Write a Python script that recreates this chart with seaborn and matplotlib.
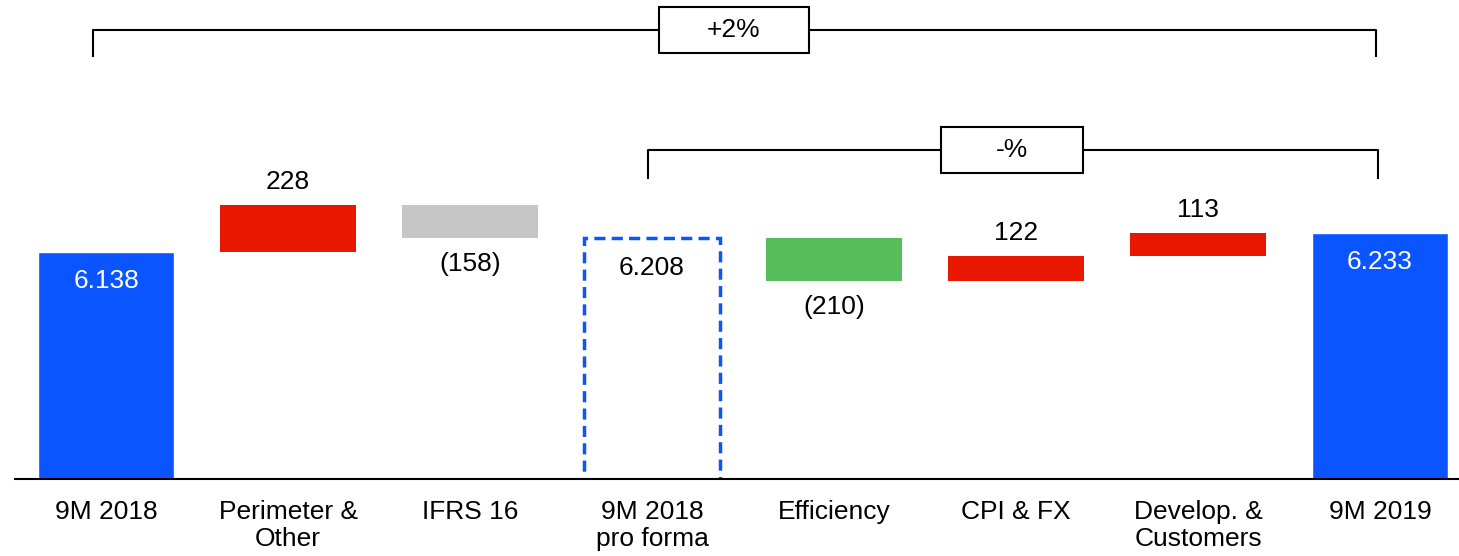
import numpy as np
import pandas as pd
import matplotlib
matplotlib.use("Agg")
import matplotlib.pyplot as plt
import seaborn as sns
from matplotlib.patches import Rectangle

# chart data
categories = ["9M 2018", "Perimeter &\nOther", "IFRS 16", "9M 2018\npro forma",
              "Efficiency", "CPI & FX", "Develop. &\nCustomers", "9M 2019"]
values = [6138, 228, -158, 6208, -210, 122, 113, 6233]
kinds = ["total", "delta", "delta", "subtotal", "delta", "delta", "delta", "total"]
value_labels = ["6.138", "228", "(158)", "6.208", "(210)", "122", "113", "6.233"]
bracket_labels = ["+2%", "-%"]

BLUE = "#0A55FF"
RED = "#E81800"
GREY = "#C6C6C6"
GREEN = "#55BE5A"
bar_colors = [BLUE, RED, GREY, BLUE, GREEN, RED, RED, BLUE]

# waterfall geometry
running = 0
lows, highs = [], []
for v, k in zip(values, kinds):
    if k == "delta":
        lows.append(min(running, running + v))
        highs.append(max(running, running + v))
        running += v
    else:
        running = v
        lows.append(0)
        highs.append(v)

df = pd.DataFrame({"cat": categories, "value": values, "kind": kinds,
                   "low": lows, "high": highs, "color": bar_colors})

sns.set_style("white")
plt.rcParams["font.family"] = ["Liberation Sans", "DejaVu Sans"]
FS = 19

fig = plt.figure(figsize=(14.59, 5.56), dpi=100)
ax = fig.add_axes([15 / 1459, 77 / 556, 1 - 15 / 1459, 479 / 556])

W = 0.75
totals = df[df["kind"] == "total"]
sns.barplot(data=totals, x="cat", y="value", order=categories, color=BLUE,
            width=W, saturation=1, ax=ax)

for i, row in df.iterrows():
    if row["kind"] == "delta":
        ax.bar(i, row["high"] - row["low"], bottom=row["low"], width=W,
               color=row["color"], linewidth=0)
    elif row["kind"] == "subtotal":
        ax.bar(i, row["value"], width=W, fill=False, edgecolor=BLUE,
               linewidth=2.5, linestyle=(0, (3.2, 1.8)))

ax.set_xlim(-0.5, 7.434)
ax.set_ylim(5031, 7367)

# value labels
for i, row in df.iterrows():
    lab = value_labels[i]
    kw = dict(textcoords="offset pixels", ha="center", va="center", fontsize=FS)
    if row["kind"] == "total":
        ax.annotate(lab, (i, row["high"]), xytext=(0, -29), color="white", **kw)
    elif row["kind"] == "subtotal":
        ax.annotate(lab, (i, row["high"]), xytext=(0, -30), color="black", **kw)
    elif row["value"] >= 0:
        ax.annotate(lab, (i, row["high"]), xytext=(0, 23), color="black", **kw)
    else:
        ax.annotate(lab, (i, row["low"]), xytext=(0, -26), color="black", **kw)

# growth brackets: (x left, x right, y line, y tick end, box centre, box width)
layout = [(-0.07, 6.98, 7221, 7089, 3.45, 0.82),
          (2.98, 6.99, 6635, 6494, 4.98, 0.78)]
box_h = 224
for (x0, x1, yl, yt, xc, bw), txt in zip(layout, bracket_labels):
    ax.plot([x0, x0, x1, x1], [yt, yl, yl, yt], color="black", lw=1.5,
            solid_capstyle="butt", clip_on=False, zorder=3)
    ax.add_patch(Rectangle((xc - bw / 2, yl - box_h / 2), bw, box_h,
                           facecolor="white", edgecolor="black", lw=1.5,
                           zorder=4, clip_on=False))
    ax.text(xc, yl, txt, ha="center", va="center", fontsize=FS, color="black",
            zorder=5)

# axes styling
for s in ["top", "right", "left"]:
    ax.spines[s].set_visible(False)
ax.spines["bottom"].set_color("black")
ax.spines["bottom"].set_linewidth(1.5)
ax.spines["bottom"].set_zorder(6)
ax.set_yticks([])
ax.set_xlabel("")
ax.set_ylabel("")
ax.set_xticks(range(len(categories)))
ax.set_xticklabels(categories, fontsize=FS, color="black")
for t in ax.get_xticklabels():
    t.set_linespacing(1.18)
ax.tick_params(axis="x", length=0, pad=15)

fig.savefig("out.png", dpi=100)
